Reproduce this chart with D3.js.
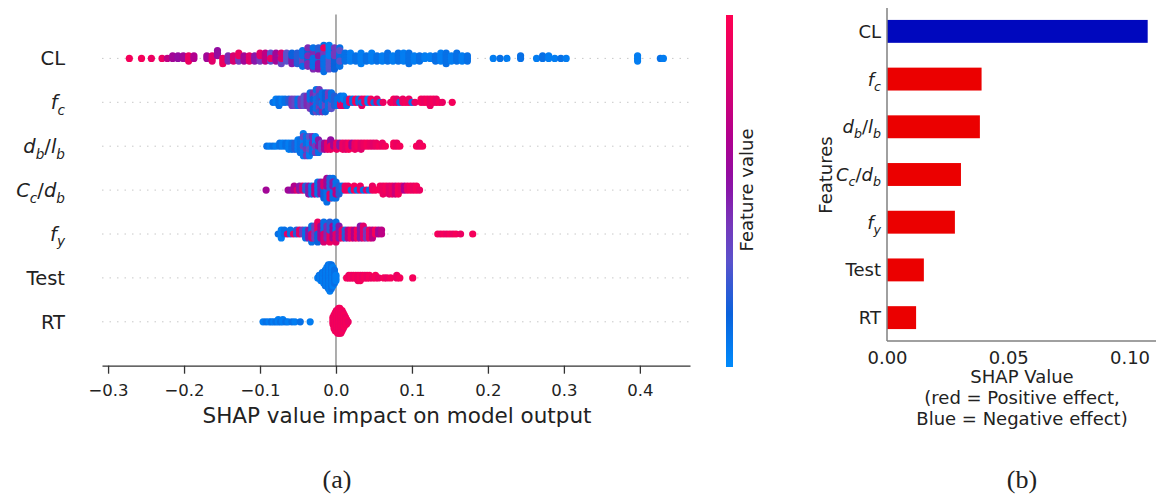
<!DOCTYPE html>
<html>
<head>
<meta charset="utf-8">
<script src="https://cdn.jsdelivr.net/npm/d3@7"></script>
<style>
  body { margin: 0; background: #fff; }
  text { font-family: "DejaVu Sans", sans-serif; fill: #222; }
</style>
</head>
<body>
<svg width="1156" height="496"></svg>
<script>
// features, top to bottom
let features = ["CL", "fc", "db/lb", "Cc/db", "fy", "Test", "RT"];
let labelParts = [
  [{t: "CL"}],
  [{t: "f", i: 1}, {t: "c", i: 1, s: 1}],
  [{t: "d", i: 1}, {t: "b", i: 1, s: 1}, {t: "/"}, {t: "l", i: 1}, {t: "b", i: 1, s: 1}],
  [{t: "C", i: 1}, {t: "c", i: 1, s: 1}, {t: "/"}, {t: "d", i: 1}, {t: "b", i: 1, s: 1}],
  [{t: "f", i: 1}, {t: "y", i: 1, s: 1}],
  [{t: "Test"}],
  [{t: "RT"}]
];

// (a) beeswarm: [shap value, feature value 0..1, how many points]
let swarmCL = [
  [-0.272,0.95,1],[-0.256,0.95,1],[-0.243,0.9,1],[-0.229,0.9,1],[-0.222,0.7,1],
  [-0.215,0.6,2],[-0.208,0.55,2],[-0.201,0.6,2],[-0.194,0.9,3],[-0.187,0.65,2],
  [-0.170,0.6,2],[-0.163,0.85,3],[-0.156,0.55,3],[-0.149,0.9,3],[-0.142,0.45,3],[-0.135,0.8,3],
  [-0.128,0.4,2],[-0.128,0.9,2],[-0.121,0.6,3],[-0.114,0.85,3],
  [-0.107,0.5,3],[-0.100,0.4,2],[-0.100,0.85,2],[-0.093,0.7,4],[-0.086,0.3,3],[-0.086,0.9,1],[-0.079,0.6,4],
  [-0.072,0.35,3],[-0.072,0.8,2],[-0.065,0.3,4],[-0.058,0.5,3],[-0.058,0.15,2],[-0.051,0.2,5],
  [-0.044,0.35,3],[-0.044,0.1,4],[-0.037,0.15,4],[-0.037,0.45,4],[-0.030,0.45,4],[-0.030,0.1,5],
  [-0.023,0.2,5],[-0.023,0.5,4],[-0.016,0.4,4],[-0.016,0.1,6],[-0.016,0.9,1],[-0.009,0.3,5],[-0.009,0.05,5],
  [-0.002,0.15,6],[-0.002,0.4,3],[0.005,0.1,6],[0.005,0.3,2],
  [0.012,0.1,4],[0.019,0.05,4],[0.026,0.1,3],[0.033,0.05,5],[0.040,0.1,3],[0.047,0.05,4],[0.054,0.1,3],
  [0.061,0.05,3],[0.068,0.1,4],[0.075,0.05,3],[0.082,0.1,4],[0.089,0.05,4],[0.096,0.1,5],[0.103,0.05,3],
  [0.110,0.1,3],[0.117,0.05,2],[0.124,0.05,2],[0.131,0.1,3],[0.138,0.05,4],[0.145,0.1,5],[0.152,0.05,3],
  [0.159,0.1,4],[0.166,0.05,3],[0.173,0.1,3],
  [0.207,0.05,1],[0.216,0.1,1],[0.225,0.05,1],[0.243,0.1,2],[0.264,0.05,1],[0.272,0.1,2],[0.280,0.05,2],
  [0.288,0.05,1],[0.296,0.1,1],[0.303,0.05,1],[0.397,0.05,3],[0.427,0.1,1],[0.431,0.05,1]
];
let swarmFc = [
  [-0.083,0.1,1],[-0.079,0.05,2],[-0.075,0.1,3],[-0.071,0.05,2],[-0.067,0.1,2],[-0.062,0.2,2],[-0.058,0.4,3],
  [-0.054,0.35,3],[-0.050,0.1,3],[-0.046,0.4,3],[-0.042,0.3,4],[-0.038,0.45,4],
  [-0.034,0.4,3],[-0.034,0.1,3],[-0.030,0.45,4],[-0.030,0.15,3],[-0.026,0.35,4],[-0.026,0.1,4],[-0.022,0.4,4],
  [-0.022,0.2,4],[-0.018,0.45,3],[-0.018,0.1,4],[-0.014,0.35,3],[-0.014,0.15,4],[-0.010,0.4,3],[-0.010,0.1,3],
  [-0.006,0.3,3],[-0.006,0.1,3],[-0.002,0.2,4],[0.002,0.1,3],
  [0.006,0.9,2],[0.006,0.1,2],[0.010,0.85,2],[0.010,0.05,2],[0.014,0.1,3],[0.018,0.9,2],[0.022,0.1,2],
  [0.026,0.95,2],[0.030,0.1,2],[0.034,0.85,2],[0.034,0.1,1],[0.038,0.9,2],[0.042,0.05,2],[0.046,0.95,2],
  [0.050,0.1,1],[0.054,0.85,2],[0.058,0.1,1],[0.062,0.9,1],
  [0.072,0.9,1],[0.076,0.95,2],[0.080,0.85,2],[0.084,0.1,1],[0.088,0.9,2],[0.092,0.95,1],[0.096,0.9,2],
  [0.100,0.1,1],[0.104,0.9,1],
  [0.112,0.95,2],[0.116,0.9,2],[0.120,0.95,2],[0.124,0.9,3],[0.128,0.95,2],[0.132,0.9,2],[0.136,0.95,1],
  [0.140,0.9,1],[0.153,0.95,1]
];
let swarmDb = [
  [-0.091,0.1,1],[-0.087,0.05,1],[-0.083,0.1,1],[-0.079,0.05,1],
  [-0.074,0.1,2],[-0.070,0.05,2],[-0.066,0.1,2],[-0.062,0.05,3],[-0.058,0.1,3],[-0.054,0.2,3],[-0.050,0.05,4],
  [-0.047,0.1,5],[-0.043,0.05,6],[-0.043,0.35,2],[-0.039,0.1,5],[-0.039,0.4,2],[-0.035,0.05,5],[-0.035,0.3,2],
  [-0.031,0.1,4],[-0.031,0.45,2],[-0.027,0.05,4],[-0.027,0.4,2],[-0.023,0.1,3],[-0.023,0.5,2],[-0.019,0.35,3],
  [-0.015,0.6,3],[-0.011,0.85,3],[-0.007,0.55,2],[-0.007,0.9,2],[-0.003,0.6,2],[0.001,0.9,3],[0.005,0.5,2],
  [0.009,0.9,3],[0.013,0.85,3],[0.017,0.95,3],[0.021,0.6,2],[0.025,0.9,3],[0.029,0.95,2],[0.033,0.85,3],
  [0.037,0.9,2],[0.041,0.95,2],[0.045,0.9,2],[0.049,0.85,2],[0.053,0.9,2],[0.057,0.95,1],[0.061,0.9,2],
  [0.065,0.95,1],[0.076,0.95,2],[0.080,0.9,2],[0.084,0.95,1],[0.106,0.95,1],[0.110,0.9,2],[0.114,0.95,1]
];
let swarmCc = [
  [-0.092,0.6,1],[-0.063,0.6,1],[-0.059,0.55,1],[-0.055,0.65,2],[-0.051,0.85,1],[-0.048,0.5,2],
  [-0.044,0.8,2],[-0.040,0.2,2],[-0.036,0.5,3],[-0.032,0.1,3],[-0.028,0.7,3],[-0.024,0.1,4],[-0.020,0.5,4],
  [-0.016,0.15,3],[-0.016,0.8,2],[-0.012,0.1,4],[-0.012,0.6,3],[-0.008,0.2,4],[-0.008,0.85,2],[-0.004,0.1,4],
  [-0.004,0.5,2],[0.000,0.1,3],[0.000,0.7,2],[0.004,0.2,3],[0.008,0.1,2],[0.012,0.9,2],
  [0.016,0.9,2],[0.020,0.1,1],[0.024,0.95,2],[0.028,0.1,1],[0.032,0.9,2],[0.036,0.1,1],[0.040,0.85,1],
  [0.044,0.1,1],[0.048,0.9,2],[0.052,0.95,1],
  [0.058,0.95,2],[0.062,0.9,3],[0.066,0.95,2],[0.070,0.85,3],[0.074,0.9,3],[0.078,0.75,3],[0.082,0.95,3],
  [0.086,0.9,2],[0.090,0.65,2],[0.094,0.9,2],[0.098,0.95,2],[0.102,0.9,2],[0.106,0.95,2],[0.110,0.9,1]
];
let swarmFy = [
  [-0.076,0.1,1],[-0.072,0.05,3],[-0.068,0.1,2],[-0.064,0.85,1],[-0.060,0.1,2],[-0.056,0.9,1],[-0.052,0.2,2],
  [-0.048,0.85,2],[-0.044,0.4,2],[-0.040,0.1,3],
  [-0.036,0.5,3],[-0.032,0.1,3],[-0.032,0.8,2],[-0.028,0.4,4],[-0.024,0.9,3],[-0.024,0.15,3],[-0.020,0.6,4],
  [-0.016,0.1,3],[-0.016,0.8,3],[-0.012,0.45,4],[-0.008,0.9,3],[-0.008,0.2,3],[-0.004,0.6,4],[0.000,0.1,3],
  [0.000,0.85,3],[0.004,0.5,4],[0.008,0.9,3],[0.012,0.2,3],[0.016,0.7,3],
  [0.020,0.9,3],[0.024,0.65,3],[0.028,0.95,3],[0.032,0.5,4],[0.036,0.85,4],[0.040,0.4,3],[0.044,0.9,3],
  [0.048,0.7,3],[0.052,0.95,2],[0.056,0.6,2],[0.060,0.7,2],
  [0.134,0.95,1],[0.138,0.9,1],[0.142,0.95,1],[0.146,0.9,1],[0.150,0.95,1],[0.154,0.9,1],[0.158,0.95,1],
  [0.164,0.9,1],[0.180,0.95,1]
];
let swarmTest = [
  [-0.024,0.05,1],[-0.022,0.1,2],[-0.020,0.05,3],[-0.018,0.1,4],[-0.016,0.05,5],[-0.014,0.1,7],[-0.012,0.05,8],
  [-0.010,0.1,10],[-0.008,0.05,11],[-0.006,0.1,10],[-0.004,0.05,8],[-0.002,0.1,6],[0.000,0.05,3],
  [0.014,0.95,1],[0.017,0.9,2],[0.020,0.95,2],[0.023,0.9,2],[0.026,0.95,2],[0.029,0.9,3],[0.032,0.95,3],
  [0.035,0.9,2],[0.038,0.95,2],[0.041,0.9,2],[0.044,0.95,2],[0.048,0.9,1],[0.052,0.95,2],[0.056,0.9,1],
  [0.063,0.95,1],[0.067,0.9,1],[0.072,0.95,1],[0.080,0.9,2],[0.084,0.95,1],[0.101,0.95,1]
];
let swarmRT = [
  [-0.096,0.05,1],[-0.092,0.1,1],[-0.088,0.05,1],[-0.085,0.1,1],[-0.082,0.05,1],[-0.079,0.1,1],[-0.076,0.05,2],
  [-0.073,0.1,1],[-0.070,0.05,2],[-0.066,0.1,1],[-0.063,0.05,1],[-0.058,0.1,1],[-0.054,0.05,1],[-0.047,0.1,1],
  [-0.034,0.05,1],
  [-0.004,0.95,4],[-0.0025,0.9,7],[-0.001,0.95,9],[0.0005,0.9,10],[0.002,0.95,11],[0.0035,0.9,12],[0.005,0.95,12],
  [0.0065,0.9,11],[0.008,0.95,10],[0.0095,0.9,8],[0.011,0.95,6],[0.0125,0.9,4],[0.014,0.95,3],[0.016,0.9,1]
];
let swarms = [swarmCL, swarmFc, swarmDb, swarmCc, swarmFy, swarmTest, swarmRT];
let xTicksA = [-0.3, -0.2, -0.1, 0.0, 0.1, 0.2, 0.3, 0.4];

// (b) mean SHAP bars, sign of effect
let barValues = [0.1075, 0.039, 0.0383, 0.0305, 0.028, 0.0152, 0.0120];
let barEffect = [-1, 1, 1, 1, 1, 1, 1];
let xTicksB = [0, 0.05, 0.10];

let svg = d3.select("svg");
svg.append("rect").attr("width", 1156).attr("height", 496).attr("fill", "#fff");

// blue -> purple -> red, like shap's red_blue map
let shapColor = d3.scaleLinear()
  .domain([0, 0.15, 0.3, 0.42, 0.52, 0.65, 0.8, 1])
  .range(["#008bfb", "#0a62dc", "#5a52cc", "#7a34b8", "#8c10a6", "#b0008e", "#d80070", "#ff0052"])
  .interpolate(d3.interpolateRgb)
  .clamp(true);

function addLabel(sel, parts, fs) {
  let wasSub = false;
  parts.forEach(p => {
    let ts = sel.append("tspan").text(p.t);
    if (p.i) ts.style("font-style", "italic");
    if (p.s) {
      ts.attr("font-size", fs * 0.7);
      if (!wasSub) ts.attr("dy", fs * 0.28);
    } else if (wasSub) {
      ts.attr("dy", -fs * 0.28);
    }
    wasSub = !!p.s;
  });
}

// ---------- (a) summary plot ----------
let xA = d3.scaleLinear().domain([-0.308, 0.466]).range([102, 690]);
let yA = d3.scaleLinear().domain([-1, 7]).range([365.7, 14.5]);
let rowOf = i => features.length - 1 - i;

let panelA = svg.append("g");

// dotted row guides
panelA.selectAll(".guide").data(features).enter().append("line")
  .attr("class", "guide")
  .attr("x1", 102).attr("x2", 690)
  .attr("y1", (d, i) => yA(rowOf(i))).attr("y2", (d, i) => yA(rowOf(i)))
  .attr("stroke", "#c8c8c8").attr("stroke-width", 1).attr("stroke-dasharray", "1.5,6");

panelA.append("line")
  .attr("x1", xA(0)).attr("x2", xA(0)).attr("y1", yA(7)).attr("y2", yA(-1))
  .attr("stroke", "#999").attr("stroke-width", 1.6);

// beeswarm layout like shap (100 bins, alternating layers)
function layout(rows) {
  let vals = [], feats = [];
  rows.forEach(r => { for (let k = 0; k < r[2]; k++) { vals.push(r[0]); feats.push(r[1]); } });
  let n = vals.length;
  let lo = d3.min(vals), hi = d3.max(vals);
  let quant = vals.map(v => Math.round(100 * (v - lo) / (hi - lo + 1e-8)));
  let order = d3.range(n).sort((a, b) => (quant[a] - quant[b]) || ((a * 0.618034) % 1 - (b * 0.618034) % 1));
  let ys = new Array(n).fill(0);
  let layer = 0, last = -1;
  order.forEach(ind => {
    if (quant[ind] !== last) layer = 0;
    ys[ind] = Math.ceil(layer / 2) * ((layer % 2) * 2 - 1);
    layer++;
    last = quant[ind];
  });
  let m = d3.max(ys, d => d + 1);
  return vals.map((v, k) => ({v: v, f: feats[k], y: ys[k] * 0.9 * 0.4 / m}));
}

swarms.forEach((rows, i) => {
  let pts = layout(rows);
  let r = rowOf(i);
  panelA.append("g").selectAll("circle").data(pts).enter().append("circle")
    .attr("cx", d => xA(d.v))
    .attr("cy", d => yA(r + d.y))
    .attr("r", 3.6)
    .attr("fill", d => shapColor(d.f));
});

let axA = panelA.append("g").attr("transform", "translate(0,365.7)")
  .call(d3.axisBottom(xA).tickValues(xTicksA).tickSize(8).tickSizeOuter(0).tickPadding(11)
    .tickFormat(d3.format(".1f")));
axA.selectAll("path, line").attr("stroke", "#333").attr("stroke-width", 1.3);
axA.selectAll("text").attr("font-size", 16.5).attr("font-family", "DejaVu Sans").attr("fill", "#222");

panelA.append("text").attr("x", 397).attr("y", 423).attr("text-anchor", "middle")
  .attr("font-size", 21.5).text("SHAP value impact on model output");

labelParts.forEach((parts, i) => {
  let t = panelA.append("text").attr("x", 65).attr("y", yA(rowOf(i)) + 7)
    .attr("text-anchor", "end").attr("font-size", 19.5);
  addLabel(t, parts, 19.5);
});

// colorbar
let grad = svg.append("defs").append("linearGradient").attr("id", "cbar")
  .attr("x1", 0).attr("x2", 0).attr("y1", 1).attr("y2", 0);
d3.range(0, 1.0001, 0.05).forEach(t => {
  grad.append("stop").attr("offset", t).attr("stop-color", shapColor(t));
});
svg.append("rect").attr("x", 726).attr("y", 15).attr("width", 7).attr("height", 352)
  .attr("fill", "url(#cbar)");
svg.append("text").attr("transform", "translate(753,190) rotate(-90)")
  .attr("text-anchor", "middle").attr("font-size", 18).text("Feature value");

// ---------- (b) bar plot ----------
let xB = d3.scaleLinear().domain([0, 0.1]).range([887, 1129.5]);
let yB = d3.scaleBand().domain(features).range([8, 341]).paddingInner(0.52).paddingOuter(0.25);
let panelB = svg.append("g");

panelB.selectAll(".bar").data(features).enter().append("rect")
  .attr("class", "bar")
  .attr("x", xB(0))
  .attr("y", d => yB(d))
  .attr("width", (d, i) => xB(barValues[i]) - xB(0))
  .attr("height", yB.bandwidth())
  .attr("fill", (d, i) => barEffect[i] < 0 ? "#0008be" : "#eb0000");

panelB.append("line").attr("x1", 887).attr("x2", 887).attr("y1", 8).attr("y2", 341)
  .attr("stroke", "#808080").attr("stroke-width", 1.5);
panelB.append("line").attr("x1", 887).attr("x2", 1160).attr("y1", 341).attr("y2", 341)
  .attr("stroke", "#808080").attr("stroke-width", 1.5);

let axB = panelB.append("g").attr("transform", "translate(0,341)")
  .call(d3.axisBottom(xB).tickValues(xTicksB).tickSize(0).tickPadding(10).tickFormat(d3.format(".2f")));
axB.select(".domain").remove();
axB.selectAll("text").attr("font-size", 18).attr("font-family", "DejaVu Sans").attr("fill", "#222");

labelParts.forEach((parts, i) => {
  let t = panelB.append("text").attr("x", 881).attr("y", yB(features[i]) + yB.bandwidth() / 2 + 6.5)
    .attr("text-anchor", "end").attr("font-size", 18);
  addLabel(t, parts, 18);
});

panelB.append("text").attr("transform", "translate(832,175) rotate(-90)")
  .attr("text-anchor", "middle").attr("font-size", 18).text("Features");

["SHAP Value", "(red = Positive effect,", "Blue = Negative effect)"].forEach((s, k) => {
  panelB.append("text").attr("x", 1022).attr("y", 383 + k * 21)
    .attr("text-anchor", "middle").attr("font-size", 18).text(s);
});

// panel captions
svg.append("text").attr("x", 337).attr("y", 488).attr("text-anchor", "middle")
  .style("font-family", "Liberation Serif, serif").attr("font-size", 26).text("(a)");
svg.append("text").attr("x", 1022).attr("y", 488).attr("text-anchor", "middle")
  .style("font-family", "Liberation Serif, serif").attr("font-size", 26).text("(b)");
</script>
</body>
</html>
